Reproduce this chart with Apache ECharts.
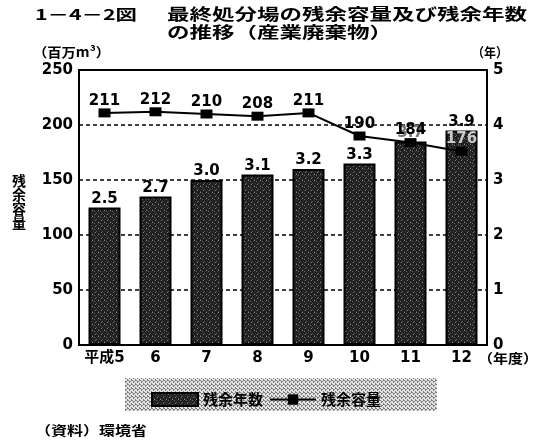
<!DOCTYPE html>
<html>
<head>
<meta charset="utf-8">
<script src="https://cdn.jsdelivr.net/npm/echarts@6/dist/echarts.min.js"></script>
<style>
  html, body { margin: 0; padding: 0; background: #fff; }
  #chart { width: 542px; height: 441px; }
</style>
</head>
<body>
<div id="chart"></div>
<script>
// Fiscal years (平成)
const categories = ['平成5', '6', '7', '8', '9', '10', '11', '12'];
// Remaining years of landfill capacity (年)
const remainingYears = [2.5, 2.7, 3.0, 3.1, 3.2, 3.3, 3.7, 3.9];
// Remaining landfill capacity (百万m³)
const remainingCapacity = [211, 212, 210, 208, 211, 190, 184, 176];
// Axis ticks
const leftTicks = [0, 50, 100, 150, 200, 250];
const rightTicks = [0, 1, 2, 3, 4, 5];

const CJK = "'Noto Sans CJK JP', sans-serif";
const NUM = "'DejaVu Sans', 'Noto Sans CJK JP', sans-serif";

// Dark speckled fill used for the bars
function speckle() {
  const rows = [
    '#262626#1a1a1a#8a8a8a#1e1e1e#2e2e2e#161616',
    '#161616#3c3c3c#1c1c1c#242424#6a6a6a#202020',
    '#242424#1c1c1c#2a2a2a#161616#1a1a1a#333333',
    '#5e5e5e#1a1a1a#202020#3c3c3c#161616#222222',
    '#1c1c1c#2a2a2a#161616#202020#2a2a2a#7a7a7a',
    '#202020#161616#4c4c4c#1a1a1a#262626#1a1a1a'
  ];
  const c = document.createElement('canvas');
  c.width = 6; c.height = 6;
  const g = c.getContext('2d');
  rows.forEach((r, y) => {
    r.split('#').slice(1).forEach((hex, x) => {
      g.fillStyle = '#' + hex;
      g.fillRect(x, y, 1, 1);
    });
  });
  return { image: c, repeat: 'repeat' };
}

// Light halftone used behind the legend
function halftone() {
  const c = document.createElement('canvas');
  c.width = 4; c.height = 4;
  const g = c.getContext('2d');
  g.fillStyle = '#e4e4e4';
  g.fillRect(0, 0, 4, 4);
  g.fillStyle = '#7c7c7c';
  [[0,0],[2,1],[1,2],[3,3],[3,0],[1,1]].forEach(([x, y]) => g.fillRect(x, y, 1, 1));
  return { image: c, repeat: 'repeat' };
}

// Text stretched horizontally to a given width
const measureCtx = document.createElement('canvas').getContext('2d');
function stretchedText(text, x, y, width, size, extra) {
  const font = 'bold ' + size + 'px ' + CJK;
  measureCtx.font = font;
  const w = measureCtx.measureText(text).width;
  return Object.assign({
    type: 'text', x: x, y: y, scaleX: width / w,
    style: { text: text, font: font, fill: '#000', textVerticalAlign: 'middle' }
  }, extra || {});
}
function charScale(text, width, size) {
  measureCtx.font = 'bold ' + size + 'px ' + CJK;
  return width / measureCtx.measureText(text).width;
}

const titleMain = '最終処分場の残余容量及び残余年数';
const titleScale = charScale(titleMain, 360, 16);

const barFill = speckle();

const chart = echarts.init(document.getElementById('chart'), null, { renderer: 'canvas' });

chart.setOption({
  animation: false,
  backgroundColor: '#fff',
  grid: {
    left: 79, right: 55, top: 70, bottom: 96,
    show: true, borderColor: '#000', borderWidth: 2, backgroundColor: 'transparent'
  },
  legend: {
    left: 146, top: 387,
    itemWidth: 46, itemHeight: 13, itemGap: 6,
    textStyle: { fontFamily: CJK, fontWeight: 'bold', fontSize: 15, color: '#000' },
    data: [
      { name: '残余年数', icon: 'rect', itemStyle: { borderColor: '#000', borderWidth: 2 } },
      { name: '残余容量' }
    ]
  },
  xAxis: {
    type: 'category',
    data: categories,
    boundaryGap: true,
    axisLine: { lineStyle: { color: '#000', width: 2 } },
    axisTick: { show: false },
    axisLabel: { interval: 0, color: '#000', fontFamily: NUM, fontWeight: 'bold', fontSize: 15, margin: 6 }
  },
  yAxis: [
    {
      type: 'value', min: leftTicks[0], max: leftTicks[leftTicks.length - 1], interval: 50,
      axisLine: { show: true, lineStyle: { color: '#000', width: 2 } },
      axisTick: { show: false },
      axisLabel: { color: '#000', fontFamily: NUM, fontWeight: 'bold', fontSize: 15, margin: 6 },
      splitLine: { show: true, lineStyle: { color: '#000', width: 1.5, type: [4, 3] } }
    },
    {
      type: 'value', min: rightTicks[0], max: rightTicks[rightTicks.length - 1], interval: 1,
      position: 'right',
      axisLine: { show: true, lineStyle: { color: '#000', width: 2 } },
      axisTick: { show: false },
      axisLabel: { color: '#000', fontFamily: NUM, fontWeight: 'bold', fontSize: 15, margin: 6 },
      splitLine: { show: false }
    }
  ],
  series: [
    {
      name: '残余年数',
      type: 'bar',
      yAxisIndex: 1,
      barWidth: 32,
      data: remainingYears.map((v, i) => (
        i === 6 ? { value: v, label: { color: '#777' } } : v
      )),
      itemStyle: { color: barFill, borderColor: '#000', borderWidth: 2 },
      label: {
        show: true, position: 'top', distance: 1,
        formatter: p => p.value.toFixed(1),
        color: '#000', fontFamily: NUM, fontWeight: 'bold', fontSize: 15
      },
      z: 2
    },
    {
      name: '残余容量',
      type: 'line',
      yAxisIndex: 0,
      data: remainingCapacity.map((v, i) => (
        i === remainingCapacity.length - 1
          ? { value: v, label: { color: '#c8c8c8' } }
          : v
      )),
      symbol: 'rect',
      symbolSize: [12, 9],
      lineStyle: { color: '#000', width: 2 },
      itemStyle: { color: '#000' },
      label: {
        show: true, position: 'top', distance: 0,
        color: '#000', fontFamily: NUM, fontWeight: 'bold', fontSize: 15
      },
      z: 3
    }
  ],
  graphic: [
    // legend backdrop
    { type: 'rect', shape: { x: 125, y: 378, width: 312, height: 33 },
      style: { fill: halftone() }, z: -1 },
    // title
    stretchedText('1－4－2図', 35, 14, 102, 15),
    stretchedText(titleMain, 167, 14, 360, 16),
    { type: 'text', x: 167, y: 32, scaleX: titleScale,
      style: { text: 'の推移（産業廃棄物）', font: 'bold 16px ' + CJK, fill: '#000', textVerticalAlign: 'middle' } },
    // axis units
    stretchedText('（百万m³）', 33, 52, 77, 13),
    stretchedText('（年）', 472, 52, 36, 13),
    stretchedText('（年度）', 478, 358, 60, 13),
    // vertical axis title
    { type: 'text', x: 19, y: 202,
      style: { text: '残\n余\n容\n量', font: 'bold 14px ' + CJK, lineHeight: 14,
               fill: '#000', textAlign: 'center', textVerticalAlign: 'middle' } },
    // source note
    stretchedText('（資料）環境省', 35, 430, 112, 13)
  ]
});
</script>
</body>
</html>
